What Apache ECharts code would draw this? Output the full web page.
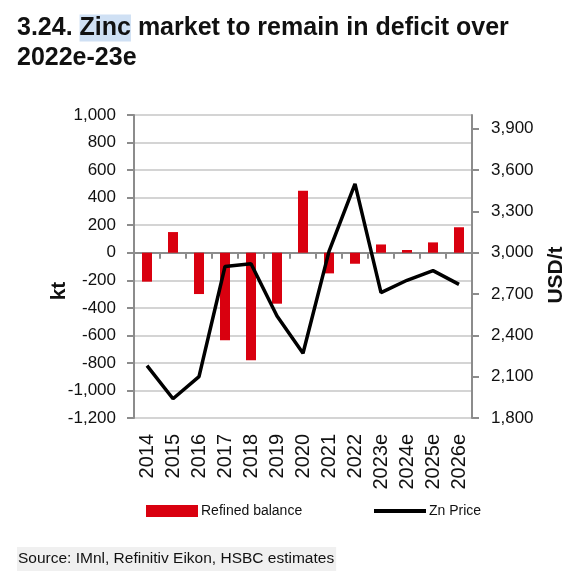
<!DOCTYPE html>
<html>
<head>
<meta charset="utf-8">
<script src="https://cdn.jsdelivr.net/npm/echarts@6/dist/echarts.min.js"></script>
<style>
  html, body { margin: 0; padding: 0; background: #fff; }
  #chart { width: 578px; height: 577px; }
</style>
</head>
<body>
<div id="chart"></div>
<script>
// 数据
var years = ['2014', '2015', '2016', '2017', '2018', '2019', '2020', '2021', '2022', '2023e', '2024e', '2025e', '2026e'];
var refinedBalance = [-210, 150, -300, -635, -780, -370, 450, -150, -80, 60, 20, 75, 185];
var znPrice = [2180, 1940, 2100, 2900, 2920, 2540, 2270, 3010, 3500, 2710, 2800, 2870, 2770];
var ktTicks = { min: -1200, max: 1000, step: 200 };
var usdTicks = { min: 1800, max: 4000, step: 300 };

var arial = "'Liberation Sans', Arial, sans-serif";
var axisGrey = '#8c8c8c';

function addCommas(v) {
    return String(v).replace(/\B(?=(\d{3})+(?!\d))/g, ',');
}

var option = {
    animation: false,
    backgroundColor: '#fff',
    title: [{
        text: '{a|3.24. }{hl|Zinc}{a| market to remain in deficit over}\n{a|2022e-23e}',
        left: 12,
        top: 8,
        textStyle: {
            rich: {
                a: { fontFamily: arial, fontWeight: 'bold', fontSize: 25, color: '#111', lineHeight: 30 },
                hl: { fontFamily: arial, fontWeight: 'bold', fontSize: 25, color: '#111', lineHeight: 30, backgroundColor: '#cfe0f4', padding: [1, 0, 1, 0] }
            }
        }
    }, {
        text: 'Source: IMnl, Refinitiv Eikon, HSBC estimates',
        left: 17,
        top: 547,
        padding: [4, 2, 4, 1],
        backgroundColor: '#f0f0f0',
        textStyle: { fontFamily: arial, fontWeight: 'normal', fontSize: 15.5, color: '#111' }
    }],
    legend: [{
        data: [{ name: 'Refined balance', icon: 'rect' }],
        left: 141,
        top: 499,
        itemWidth: 52,
        itemHeight: 12,
        itemGap: 5,
        textStyle: { fontFamily: arial, fontSize: 14, color: '#111', padding: [0, 0, 0, -2] }
    }, {
        data: [{ name: 'Zn Price', icon: 'rect' }],
        left: 369,
        top: 499,
        itemWidth: 52,
        itemHeight: 4,
        textStyle: { fontFamily: arial, fontSize: 14, color: '#111', padding: [0, 0, 0, -2] }
    }],
    grid: { left: 134, right: 106, top: 115, bottom: 159 },
    xAxis: [{
        type: 'category',
        data: years,
        position: 'bottom',
        axisLine: { onZero: true, onZeroAxisIndex: 0, lineStyle: { color: axisGrey, width: 2 } },
        axisTick: { show: true, interval: 0, length: 6, lineStyle: { color: axisGrey, width: 2 } },
        axisLabel: { show: false, interval: 0 },
        splitLine: { show: false }
    }, {
        type: 'category',
        data: years,
        position: 'bottom',
        axisLine: { show: false, onZero: false },
        axisTick: { show: false },
        axisLabel: { interval: 0, rotate: 90, margin: 16, fontFamily: arial, fontSize: 20, color: '#111' },
        splitLine: { show: false }
    }],
    yAxis: [{
        type: 'value',
        min: ktTicks.min,
        max: ktTicks.max,
        interval: ktTicks.step,
        axisLine: { show: true, lineStyle: { color: axisGrey, width: 2 } },
        axisTick: { show: true, length: 7, lineStyle: { color: axisGrey, width: 2 } },
        axisLabel: { margin: 18, fontFamily: arial, fontSize: 17, color: '#111', formatter: addCommas },
        splitLine: { lineStyle: { color: '#d4d4d4', width: 2 } }
    }, {
        type: 'value',
        position: 'right',
        min: usdTicks.min,
        max: usdTicks.max,
        interval: usdTicks.step,
        axisLine: { show: true, lineStyle: { color: axisGrey, width: 2 } },
        axisTick: { show: true, length: 7, lineStyle: { color: axisGrey, width: 2 } },
        axisLabel: { margin: 19, fontFamily: arial, fontSize: 17, color: '#111', showMaxLabel: false, formatter: addCommas },
        splitLine: { show: false }
    }],
    graphic: [{
        type: 'text',
        x: 59, y: 291,
        rotation: Math.PI / 2,
        style: { text: 'kt', fontFamily: arial, fontWeight: 'bold', fontSize: 21, fill: '#111', textAlign: 'center', textVerticalAlign: 'middle' }
    }, {
        type: 'text',
        x: 556, y: 275,
        rotation: Math.PI / 2,
        style: { text: 'USD/t', fontFamily: arial, fontWeight: 'bold', fontSize: 21, fill: '#111', textAlign: 'center', textVerticalAlign: 'middle' }
    }],
    series: [{
        name: 'Refined balance',
        type: 'bar',
        xAxisIndex: 0,
        yAxisIndex: 0,
        data: refinedBalance,
        barWidth: 10,
        itemStyle: { color: '#d9000f' },
        z: 2
    }, {
        name: 'Zn Price',
        type: 'line',
        xAxisIndex: 0,
        yAxisIndex: 1,
        data: znPrice,
        symbol: 'none',
        lineStyle: { color: '#000', width: 3.5 },
        itemStyle: { color: '#000' },
        z: 3
    }]
};

var myChart = echarts.init(document.getElementById('chart'));
myChart.setOption(option);
</script>
</body>
</html>
